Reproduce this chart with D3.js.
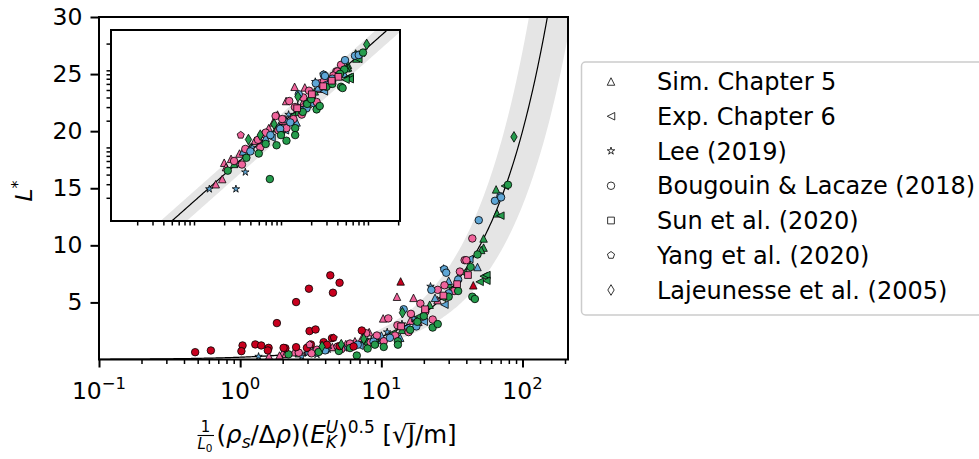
<!DOCTYPE html>
<html><head><meta charset="utf-8">
<script src="https://cdn.jsdelivr.net/npm/d3@7"></script>
<style>body{margin:0;background:#fff} text{font-family:"DejaVu Sans",sans-serif;fill:#000;white-space:pre}</style>
</head><body><svg id="c" width="979" height="459"></svg>
<script>
// ---------------- DATA ----------------
const seriesNames = ["Sim. Chapter 5","Exp. Chapter 6","Lee (2019)","Bougouin & Lacaze (2018)","Sun et al. (2020)","Yang et al. (2020)","Lajeunesse et al. (2005)"];
const seriesShapes = ["triUp","triLeft","star","circle","square","pentagon","thinDiamond"];
const colorKeys = ["r","p","b","g"];
const colorValues = ["#c8001e","#f0649c","#5ea6d6","#259c4c"];

// [x, L*, colour group]
const simChapter5 = [
 [13.7,6.84,"r"],[44.8,6.5,"r"],
 [12.9,5.5,"p"],[16.9,5.4,"p"],[10.3,3.6,"p"],[16,3.4,"p"],[18.3,3.3,"p"],[2.0,0.57,"p"],[2.4,0.64,"p"],[2.1,0.5,"p"],
 [5.6,1.35,"p"],[7.3,1.9,"p"],[6.5,1.6,"p"],[4.5,1.1,"p"],[9.5,2.0,"p"],[3.0,0.75,"p"],[8.2,2.4,"p"],[25,5.2,"p"],[1.6,0.3,"p"],[1.9,0.35,"p"],
 [65,14.9,"g"],[66,12.8,"g"],[53,10.6,"g"],[53,9.8,"g"],[51,9.6,"g"],[30,6.6,"g"],[22,4.8,"g"],[14,2.6,"g"],[8,1.6,"g"],[4,0.9,"g"],[2.6,0.55,"g"],[35,7.2,"g"],
 [48,8.1,"b"],[13.6,1.9,"b"],[24,5.4,"b"],[6,1.2,"b"],[3.3,0.8,"b"],[10,2.1,"b"],[30,6.9,"b"]
];
const expChapter6 = [
 [69.7,12.6,"g"],[53.1,7.3,"g"],[55.5,7.4,"g"],[55.5,6.9,"g"],[49.7,6.8,"g"],[75,15.2,"g"],[38,7.6,"g"],[32,6.2,"g"],[18,3.7,"g"],[9,1.5,"g"],[12,2.3,"g"],[27,5.4,"g"],
 [10,1.5,"b"],[20,3.3,"b"],[28,4.8,"b"],[7,1.2,"b"],[15,2.8,"b"],[42,8.8,"b"]
];
const lee2019 = [
 [1.35,0.26,"b"],[2.73,0.26,"b"],[3.5,0.43,"b"],[27.6,7.96,"b"],[22.3,6.4,"b"],[4.2,0.9,"b"],[5.5,1.0,"b"],[8.5,1.7,"b"],[14,3.1,"b"],[17,3.6,"b"],[3.0,0.55,"b"],[11,2.4,"b"]
];
const bougouin2018 = [
 [44.1,10.6,"p"],[38.9,8.7,"p"],[25.1,6.1,"p"],[18.9,4.9,"p"],[23.1,3.5,"p"],[11.2,3.6,"p"],[15.6,2.4,"p"],[7.8,2.3,"p"],[10.4,1.6,"p"],[8.4,1.5,"p"],
 [4.9,1.13,"p"],[3.5,0.86,"p"],[3.2,0.54,"p"],[16.2,4.0,"p"],[32.8,6.0,"p"],[40,8.7,"p"],[28,6.5,"p"],[13,3.0,"p"],[6,1.4,"p"],[5.2,0.9,"p"],[2.6,0.6,"p"],[20.5,4.2,"p"],[36,7.7,"p"],[9.3,2.1,"p"],[12.5,2.1,"p"],
 [69.7,14.3,"b"],[63.8,13.9,"b"],[70.5,14.2,"b"],[49,12.2,"b"],[27.9,7.9,"b"],[22.6,6.1,"b"],[17.7,2.9,"b"],[28.8,7.6,"b"],[8.8,1.57,"b"],[35,7.0,"b"],[14.4,4.4,"b"],[6.8,1.3,"b"],[11.5,1.9,"b"],[4.0,0.8,"b"],[30,5.8,"b"],
 [78.9,15.3,"g"],[44.1,5.5,"g"],[46,5.3,"g"],[23.1,2.8,"g"],[25.1,3.1,"g"],[13.1,1.6,"g"],[13.1,1.3,"g"],[10.4,1.1,"g"],[8.0,0.96,"g"],[3.6,0.66,"g"],[6.7,0.35,"g"],[48,9.2,"g"],[42.9,8.1,"g"],[30,5.5,"g"],[18,3.3,"g"],[16,2.6,"g"],[20,3.8,"g"],[35,6.0,"g"],[6,1.0,"g"],[5,0.75,"g"],[9,1.3,"g"],[2.2,0.45,"g"],
 [0.48,0.64,"r"],[0.62,0.79,"r"],[1.04,1.23,"r"],[1.02,0.73,"r"],[1.28,1.32,"r"],[1.41,1.23,"r"],[1.59,1.02,"r"],[1.57,0.79,"r"],[1.82,3.19,"r"],[2.49,5.03,"r"],
 [3.07,6.2,"r"],[4.35,7.37,"r"],[5.06,6.72,"r"],[4.54,5.85,"r"],[3.1,2.49,"r"],[3.42,2.63,"r"],[2.09,0.99,"r"],[2.49,1.08,"r"],[2.97,1.02,"r"],[3.17,1.32,"r"],
 [3.9,1.52,"r"],[4.47,1.87,"r"],[4.12,1.29,"r"],[5.06,1.17,"r"],[6.36,1.14,"r"],[7.27,2.54,"r"],[2.03,1.02,"r"]
];
const sun2020 = [[41.1,7.4,"p"],[34.4,6.6,"p"],[27.5,5.6,"p"],[20.4,4.4,"p"],[13.8,2.9,"p"]];
const yang2020 = [[4.6,1.9,"r"],[3.1,1.3,"p"]];
const lajeunesse2005 = [[87,19.5,"g"],[14.1,4.1,"g"],[3.8,1.14,"g"],[5.2,1.3,"g"],[7.5,1.8,"g"]];
const allSeries = [simChapter5, expChapter6, lee2019, bougouin2018, sun2020, yang2020, lajeunesse2005];

// fit L* = a x  and grey band
const fitCoef = 0.2, bandLowCoef = 0.135, bandHighCoef = 0.27;

// axes
const xDomain = [0.1, 210];
const yDomain = [0, 30];
const yInsetDomain = [0.1, 30];
const xMajorTicks = [0.1, 1, 10, 100];
const xMajorExponents = ["\u22121", "0", "1", "2"];
const xMinorTicks = [0.2,0.3,0.4,0.5,0.6,0.7,0.8,0.9,2,3,4,5,6,7,8,9,20,30,40,50,60,70,80,90,200];
const yMinorTicksInset = [0.2,0.3,0.4,0.5,0.6,0.7,0.8,0.9,2,3,4,5,6,7,8,9,20];
const yTicks = [5,10,15,20,25,30];

// ---------------- DRAW ----------------
const svg = d3.select("#c");
const M = {l:99, r:568, t:17, b:359.5};
const I = {l:111, r:400, t:30, b:221};
const x = d3.scaleLog().domain(xDomain).range([M.l, M.r]);
const y = d3.scaleLinear().domain(yDomain).range([M.b, M.t]);
const xi = d3.scaleLog().domain(xDomain).range([I.l, I.r]);
const yi = d3.scaleLog().domain(yInsetDomain).range([I.b, I.t]);
const color = d3.scaleOrdinal().domain(colorKeys).range(colorValues);

function markerPath(shape, ms) {
  const h = ms/2;
  if (shape === "circle") return d3.symbol(d3.symbolCircle, Math.PI*h*h)();
  if (shape === "triUp") return `M0,${-h}L${h},${h}L${-h},${h}Z`;
  if (shape === "triLeft") return `M${-h},0L${h},${-h}L${h},${h}Z`;
  if (shape === "square") { const s = h*0.9; return `M${-s},${-s}H${s}V${s}H${-s}Z`; }
  if (shape === "pentagon") {
    let p = ""; for (let i=0;i<5;i++){ const a=-Math.PI/2+i*2*Math.PI/5; p += (i?"L":"M")+(h*Math.cos(a)).toFixed(2)+","+(h*Math.sin(a)).toFixed(2);} return p+"Z";
  }
  if (shape === "star") {
    let p = ""; for (let i=0;i<10;i++){ const r = i%2? h*0.382 : h*1.05; const a=-Math.PI/2+i*Math.PI/5; p += (i?"L":"M")+(r*Math.cos(a)).toFixed(2)+","+(r*Math.sin(a)).toFixed(2);} return p+"Z";
  }
  if (shape === "thinDiamond") { const v = h*1.414, w = v*0.6; return `M0,${-v}L${w},0L0,${v}L${-w},0Z`; }
}

const defs = svg.append("defs");
defs.append("clipPath").attr("id","cm").append("rect").attr("x",M.l).attr("y",M.t).attr("width",M.r-M.l).attr("height",M.b-M.t);
defs.append("clipPath").attr("id","ci").append("rect").attr("x",I.l).attr("y",I.t).attr("width",I.r-I.l).attr("height",I.b-I.t);

// sample grid for fit curve (log-spaced)
const grid = d3.range(0, 401).map(i => xDomain[0]*Math.pow(xDomain[1]/xDomain[0], i/400));

function drawPanel(g, xs, ys, clipId, withRed) {
  const gc = g.append("g").attr("clip-path", `url(#${clipId})`);
  const area = d3.area().x(d => xs(d)).y0(d => ys(Math.max(bandLowCoef*d, 1e-3))).y1(d => ys(Math.max(bandHighCoef*d,1e-3)));
  gc.append("path").datum(grid).attr("d", area).attr("fill", "#e5e5e5");
  gc.append("path").datum(grid).attr("d", d3.line().x(d=>xs(d)).y(d=>ys(fitCoef*d))).attr("fill","none").attr("stroke","#000").attr("stroke-width",1.2);
  allSeries.forEach((ser, si) => {
    const pts = withRed ? ser : ser.filter(d => d[2] !== "r");
    gc.selectAll(null).data(pts).join("path")
      .attr("d", markerPath(seriesShapes[si], 7.5))
      .attr("transform", d => `translate(${xs(d[0])},${ys(d[1])})`)
      .attr("fill", d => color(d[2])).attr("stroke", "#000").attr("stroke-width", 0.8);
  });
}

// main panel
const gm = svg.append("g");
drawPanel(gm, x, y, "cm", true);
gm.append("rect").attr("x",M.l).attr("y",M.t).attr("width",M.r-M.l).attr("height",M.b-M.t).attr("fill","none").attr("stroke","#000").attr("stroke-width",2);

// main x axis
const axX = gm.append("g").attr("transform",`translate(0,${M.b})`);
axX.call(d3.axisBottom(x).tickValues(xMajorTicks).tickSize(8).tickFormat(""));
const axXm = gm.append("g").attr("transform",`translate(0,${M.b})`);
axXm.call(d3.axisBottom(x).tickValues(xMinorTicks).tickSize(4.5).tickFormat(""));
[axX, axXm].forEach(a => { a.select(".domain").remove(); });
axX.selectAll(".tick line").attr("stroke-width",2);
axXm.selectAll(".tick line").attr("stroke-width",1.5);
xMajorTicks.forEach((v,i) => {
  const t = gm.append("text").attr("x", x(v)).attr("y", 398.5).attr("text-anchor","middle").style("font-size","23.5px");
  t.append("tspan").text("10");
  t.append("tspan").attr("dy",-9.5).style("font-size","16.5px").text(xMajorExponents[i]);
});

// main y axis
const axY = gm.append("g").attr("transform",`translate(${M.l},0)`);
axY.call(d3.axisLeft(y).tickValues(yTicks).tickSize(8.5).tickPadding(8).tickFormat(d3.format("d")));
axY.select(".domain").remove();
axY.selectAll(".tick line").attr("stroke-width",2);
axY.selectAll(".tick text").style("font-size","23.5px").style("font-family","DejaVu Sans");

// y label
const yl = svg.append("text").attr("transform","translate(31.5,191) rotate(-90)").attr("text-anchor","middle").style("font-size","23.5px");
yl.append("tspan").style("font-style","italic").text("L");
yl.append("tspan").attr("dy",-9).style("font-size","16px").text("*");

// x label (mathtext-like layout)
(function(){
  const g = svg.append("g");
  // fraction 1/L0
  g.append("text").attr("x",205.5).attr("y",432).attr("text-anchor","middle").style("font-size","15px").text("1");
  g.append("line").attr("x1",197.5).attr("x2",214).attr("y1",435.5).attr("y2",435.5).attr("stroke","#000").attr("stroke-width",1.1);
  const lt = g.append("text").attr("x",197.5).attr("y",448.5).style("font-size","15px");
  lt.append("tspan").style("font-style","italic").text("L");
  lt.append("tspan").attr("dy",3.5).style("font-size","10.5px").text("0");
  const pieces = [
    {t:"(",s:24.5},{t:"\u03C1",s:24.5,it:1},{t:"s",s:17,it:1,dy:5},{t:"/\u0394",s:24.5},{t:"\u03C1",s:24.5,it:1},{t:")(",s:24.5},
    {t:"E",s:24.5,it:1},{t:"U",s:17,it:1,dy:-10.5,stack:1},{t:"K",s:17,it:1,dy:5},{t:")",s:24.5},{t:"0.5",s:17,dy:-10.5},
    {t:"\u00A0[",s:24.5},{t:"\u221A",s:24.5},{t:"J",s:24.5,over:1},{t:"/m]",s:24.5}
  ];
  let cx = 216.5, base = 443, stackW = 0;
  pieces.forEach(p => {
    const el = g.append("text").attr("x",cx).attr("y",base+(p.dy||0)).style("font-size",p.s+"px").style("font-style",p.it?"italic":"normal").text(p.t);
    const w = el.node().getComputedTextLength();
    if (p.stack) { stackW = w; return; }
    const adv = Math.max(w, stackW); stackW = 0;
    if (p.over) g.append("line").attr("x1",cx-1).attr("x2",cx+w+0.5).attr("y1",base-19.5).attr("y2",base-19.5).attr("stroke","#000").attr("stroke-width",1.2);
    cx += adv;
  });
})();

// inset
const gi = svg.append("g");
gi.append("rect").attr("x",I.l).attr("y",I.t).attr("width",I.r-I.l).attr("height",I.b-I.t).attr("fill","#fff");
drawPanel(gi, xi, yi, "ci", false);
gi.append("rect").attr("x",I.l).attr("y",I.t).attr("width",I.r-I.l).attr("height",I.b-I.t).attr("fill","none").attr("stroke","#000").attr("stroke-width",2);
const aiX = gi.append("g").attr("transform",`translate(0,${I.b})`).call(d3.axisBottom(xi).tickValues(xMinorTicks).tickSize(4.5).tickFormat(""));
const aiY = gi.append("g").attr("transform",`translate(${I.l},0)`).call(d3.axisLeft(yi).tickValues(yMinorTicksInset).tickSize(4.5).tickFormat(""));
[aiX, aiY].forEach(a => { a.select(".domain").remove(); a.selectAll(".tick line").attr("stroke-width",1.5); });

// legend
const lg = svg.append("g");
lg.append("rect").attr("x",581.5).attr("y",62).attr("width",420).attr("height",253).attr("rx",4).attr("fill","#fff").attr("fill-opacity",0.8).attr("stroke","#cccccc").attr("stroke-width",1.5);
seriesNames.forEach((name,i) => {
  const cy = 81.5 + i*34.75;
  lg.append("path").attr("d", markerPath(seriesShapes[i], 7.5)).attr("transform",`translate(611,${cy})`).attr("fill","#fff").attr("stroke","#000").attr("stroke-width",0.8);
  lg.append("text").attr("x",657).attr("y",cy+8.6).style("font-size","24px").text(name);
});
</script></body></html>
